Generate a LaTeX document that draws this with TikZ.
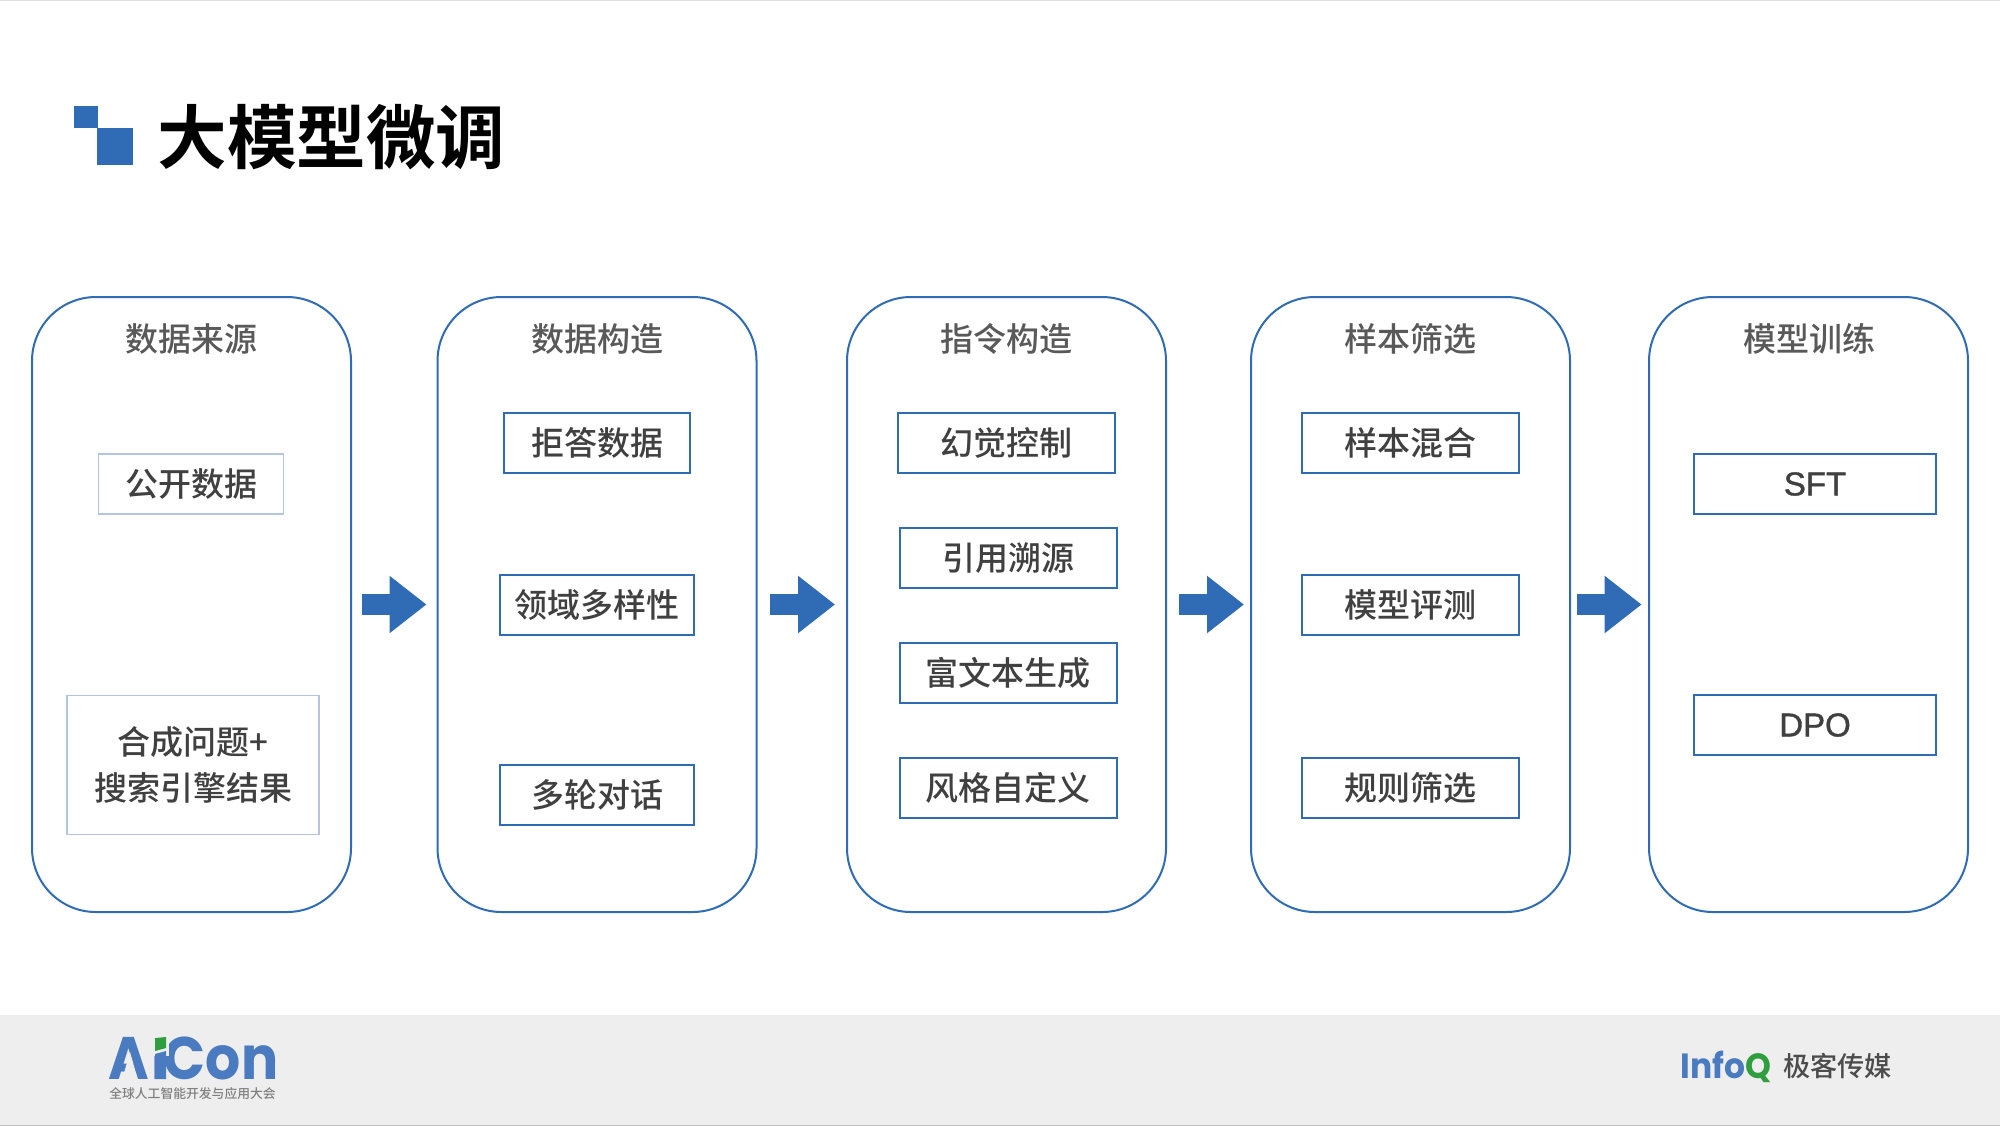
\documentclass[tikz,border=0pt]{standalone}
\usepackage{fontspec}
\setmainfont{Liberation Sans}
\newfontfamily\cjk{Noto Sans CJK SC Medium}
\newfontfamily\cjkb{Noto Sans CJK SC Bold}
\newfontfamily\logof{Poppins Bold}
\newfontfamily\latm[FakeBold=1.2]{Liberation Sans}
\usetikzlibrary{arrows.meta}
\definecolor{bl}{HTML}{2F6CB5}
\definecolor{lbl}{HTML}{B4C4E4}
\definecolor{lg}{HTML}{4A7ABF}
\definecolor{gr}{HTML}{2F9E3F}
\definecolor{band}{HTML}{EEEEEE}
\tikzset{
 panel/.style={draw=bl,line width=1pt,rounded corners=32pt,minimum width=159.5pt,minimum height=307.5pt,inner sep=0pt},
 head/.style={font=\cjk\fontsize{16.5}{20}\selectfont,text=black!65,inner sep=0pt},
 itembox/.style={draw=bl,line width=1pt,fill=white,minimum height=30pt,minimum width=#1,inner sep=0pt,font=\cjk\fontsize{16.5}{20}\selectfont,text=black!75},
 softbox/.style={itembox=#1,draw=lbl,line width=.6pt},
 latinbox/.style={itembox=#1,font=\latm\fontsize{16.5}{20}\selectfont},
 flow/.style={bl,line width=10.5pt,-{Triangle[length=18.5pt,width=27.5pt]}},
}
\begin{document}
\begin{tikzpicture}[x=0.5pt,y=-0.5pt]
\useasboundingbox (0,0) rectangle (2000,1126);
\fill[white] (0,0) rectangle (2000,1126);
\fill[gray!25] (0,0) rectangle (2000,1);
\fill[band] (0,1015) rectangle (2000,1126);
\fill[gray!50] (0,1124.5) rectangle (2000,1126);
% title
\fill[bl] (74,106) rectangle (98,128);
\fill[bl] (97,128) rectangle (133,165);
\node[anchor=west,inner sep=0pt,font=\cjkb\fontsize{34.8}{40}\selectfont,text=black] (title) at (157,137) {大模型微调};
% panels
\node[panel] (p1) at (191.5,604.5) {};
\node[panel] (p2) at (597,604.5) {};
\node[panel] (p3) at (1006.5,604.5) {};
\node[panel] (p4) at (1410.5,604.5) {};
\node[panel] (p5) at (1808.5,604.5) {};
% headers
\node[head] (h1) at (191,338.5) {数据来源};
\node[head] (h2) at (597,338.5) {数据构造};
\node[head] (h3) at (1006,338.5) {指令构造};
\node[head] (h4) at (1410,338.5) {样本筛选};
\node[head] (h5) at (1809,338.5) {模型训练};
% col 1
\node[softbox=92.5pt] (a1) at (191,484) {公开数据};
\node[softbox=126pt,minimum height=69.5pt,align=center] (a2) at (193,765) {合成问题+\\[3pt]搜索引擎结果};
% col 2
\node[itembox=93pt] (b1) at (597,443) {拒答数据};
\node[itembox=97pt] (b2) at (597,605) {领域多样性};
\node[itembox=97pt] (b3) at (597,795) {多轮对话};
% col 3
\node[itembox=108.5pt] (c1) at (1006,443) {幻觉控制};
\node[itembox=108.5pt] (c2) at (1008,558) {引用溯源};
\node[itembox=108.5pt] (c3) at (1008,673) {富文本生成};
\node[itembox=108.5pt] (c4) at (1008,788) {风格自定义};
% col 4
\node[itembox=108.5pt] (d1) at (1410.5,443) {样本混合};
\node[itembox=108.5pt] (d2) at (1410.5,605) {模型评测};
\node[itembox=108.5pt] (d3) at (1410.5,788) {规则筛选};
% col 5
\node[latinbox=121pt] (e1) at (1815,484) {SFT};
\node[latinbox=121pt] (e2) at (1815,725) {DPO};
% flow arrows
\draw[flow] ([xshift=5pt]p1.east) -- ([xshift=-5pt]p2.west);
\draw[flow] ([xshift=6.2pt]p2.east) -- ([xshift=-5.5pt]p3.west);
\draw[flow] ([xshift=6pt]p3.east) -- ([xshift=-3pt]p4.west);
\draw[flow] ([xshift=3.2pt]p4.east) -- ([xshift=-3.2pt]p5.west);
% logos
\node[anchor=base west,inner sep=0pt,xscale=.92,text depth=0pt,font=\logof\fontsize{30}{30}\selectfont,text=lg] (aicon) at (108,1079) {A\kern1.6pt i\kern-2.4pt Con};
\fill[band] (147,1022) rectangle (168.5,1056);
\fill[gr] (155,1038) -- (166,1037) -- (166,1048) -- (155,1051) -- cycle;
\fill[lg] (155,1054) -- (166,1051) -- (166,1079) -- (155,1079) -- cycle;
\fill[band] (130,1052) -- (122,1080) -- (138,1080) -- cycle;
\node[anchor=center,inner sep=0pt,font=\cjk\fontsize{6.4}{7}\selectfont,text=black!50] (aisub) at (192.5,1094) {全球人工智能开发与应用大会};
\node[anchor=base west,inner sep=0pt,xscale=.94,font=\logof\fontsize{17.5}{18}\selectfont,text=lg] (info) at (1680,1078) {Info};
\node[anchor=base west,inner sep=0pt,xscale=.94,font=\logof\fontsize{17.5}{18}\selectfont,text=gr] (infoq) at (info.base east) {Q};
\node[anchor=center,inner sep=0pt,font=\cjk\fontsize{13.6}{16}\selectfont,text=black!70] (geek) at (1837.5,1066) {极客传媒};
\end{tikzpicture}
\end{document}
